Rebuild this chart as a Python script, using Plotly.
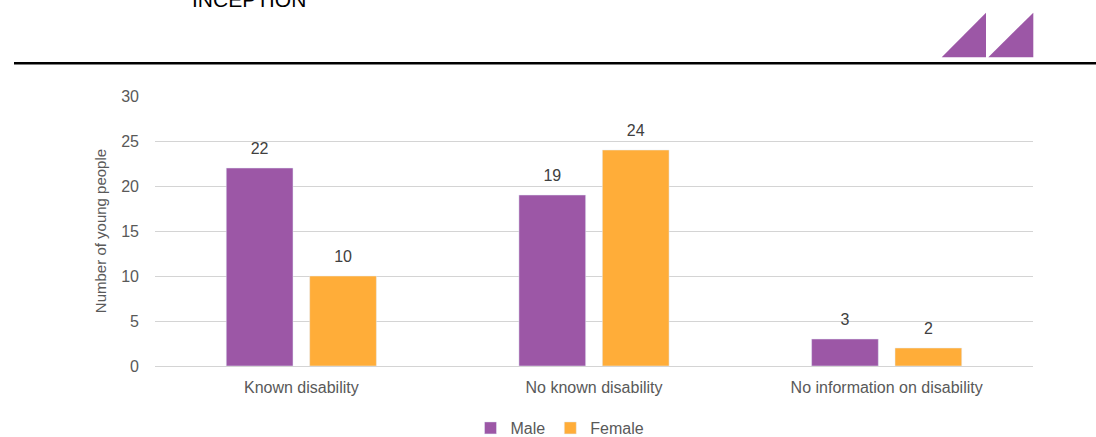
import plotly.graph_objects as go

categories = ["Known disability", "No known disability", "No information on disability"]
male = [22, 19, 3]
female = [10, 24, 2]
series_names = ["Male", "Female"]
y_ticks = [0, 5, 10, 15, 20, 25, 30]
header_text = "INCEPTION"
y_title = "Number of young people"

PURPLE = "#9C57A6"
ORANGE = "#FFAD39"
FONT = "Liberation Sans, Arial, sans-serif"

W, H = 1096, 437
L, R, T, B = 155, 63, 96, 71
pw, ph = W - L - R, H - T - B

def px(x):
    return (x - L) / pw

def py(y):
    return (H - B - y) / ph

fig = go.Figure()
fig.add_trace(go.Bar(x=categories, y=male, name=series_names[0], marker_color=PURPLE,
                     offsetgroup="m"))
fig.add_trace(go.Bar(x=categories, y=female, name=series_names[1], marker_color=ORANGE,
                     offsetgroup="f"))
# value labels
for vals, og in [(male, "m"), (female, "f")]:
    fig.add_trace(go.Scatter(x=categories, y=vals, mode="markers+text", text=[str(v) for v in vals],
                             textposition="top center", offsetgroup=og, orientation="v",
                             marker=dict(size=15, opacity=0),
                             textfont=dict(color="#404040", size=16, family=FONT),
                             showlegend=False, hoverinfo="skip"))

fig.update_layout(
    width=W, height=H,
    margin=dict(l=L, r=R, t=T, b=B, autoexpand=False),
    paper_bgcolor="white", plot_bgcolor="white",
    barmode="group", bargap=0.43, bargroupgap=0.2,
    scattermode="group", scattergap=0.43,
    font=dict(family=FONT, color="#595959"),
    showlegend=True,
    legend=dict(orientation="h", x=px(560), xanchor="center", y=py(428), yanchor="middle",
                font=dict(size=16, color="#595959"), itemwidth=30,
                traceorder="normal"),
    xaxis=dict(showgrid=False, showline=False, zeroline=False, ticks="",
               tickfont=dict(size=16, color="#595959"), ticklabelstandoff=10),
    yaxis=dict(range=[0, 30], tickvals=y_ticks, showgrid=True, gridcolor="#D4D4D4",
               gridwidth=1, zeroline=True, zerolinecolor="#D4D4D4", zerolinewidth=1,
               showline=False, ticks="", ticklabelstandoff=15,
               tickfont=dict(size=16, color="#595959"),
               title=dict(text=y_title, font=dict(size=15, color="#595959"), standoff=10)),
    shapes=[
        dict(type="line", xref="paper", yref="paper", x0=px(14), x1=px(1096),
             y0=py(63.3), y1=py(63.3), line=dict(color="black", width=2.5)),
        dict(type="path", xref="paper", yref="paper", fillcolor=PURPLE, line=dict(width=0),
             path=f"M {px(941.7)} {py(57.3)} L {px(986)} {py(57.3)} L {px(986)} {py(12.7)} Z"),
        dict(type="path", xref="paper", yref="paper", fillcolor=PURPLE, line=dict(width=0),
             path=f"M {px(988.3)} {py(57.3)} L {px(1033.3)} {py(57.3)} L {px(1033.3)} {py(12.7)} Z"),
    ],
    annotations=[
        dict(text=header_text, xref="paper", yref="paper", x=px(190), y=py(13),
             xanchor="left", yanchor="bottom", showarrow=False,
             font=dict(family=FONT, size=21, color="black")),
    ],
)

fig.write_html("out.html", config={"displayModeBar": False},
               post_script="document.body.style.margin='0';document.body.style.overflow='hidden';")
